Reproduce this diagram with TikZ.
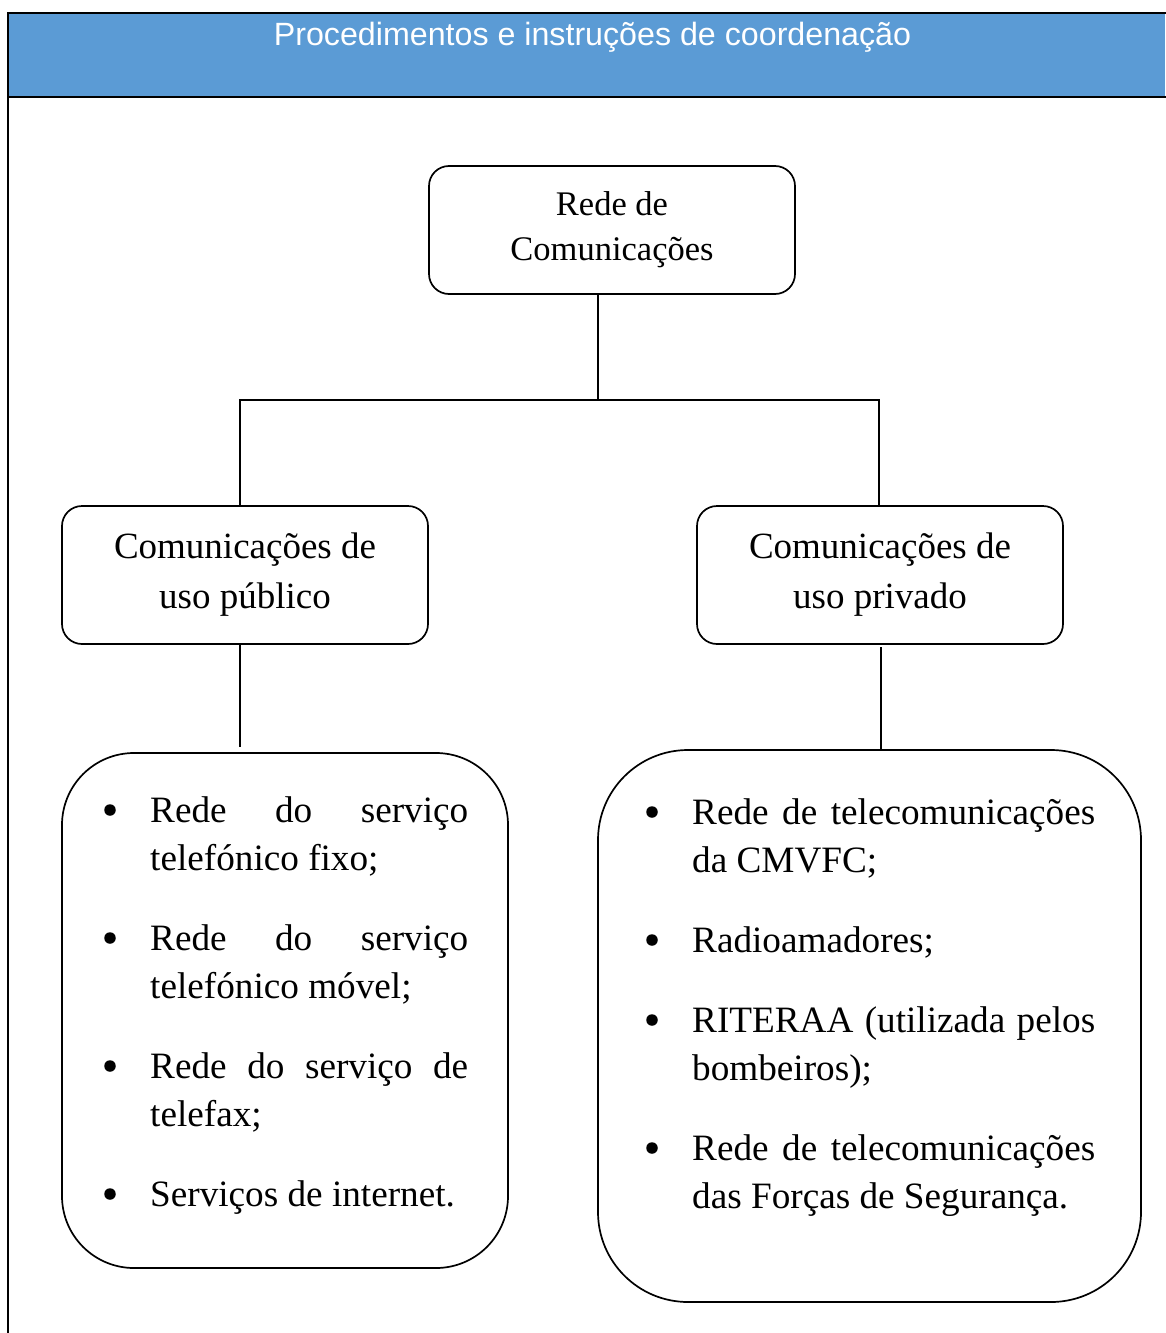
\documentclass[tikz,border=0pt]{standalone}
\usepackage{fontspec}
\setmainfont{Liberation Serif}
\newfontfamily\headfont{Liberation Sans}
\definecolor{headblue}{HTML}{5B9BD5}
\begin{document}
\begin{tikzpicture}[x=1pt,y=-1pt,
  frameline/.style={line width=2.6pt, line cap=rect},
  boxstyle/.style={draw, line width=1.7pt, rounded corners=20pt, align=center, inner sep=0pt},
  listbox/.style={draw, line width=1.7pt, inner sep=0pt},
  conn/.style={line width=1.6pt},
  bul/.style={circle, fill=black, inner sep=0pt, minimum size=11.5pt},
  itemline/.style={anchor=base west, inner sep=0pt, font=\fontsize{37.2}{48}\selectfont}
]
\useasboundingbox (0,0) rectangle (1165,1333);
% header
\fill[headblue] (8,13) rectangle (1165,97);
\draw[frameline] (8,13) -- (1165,13);
\draw[frameline] (8,97) -- (1165,97);
\draw[line width=1.8pt] (8,13) -- (8,1333);
\node[text=white, font=\headfont\fontsize{32.2}{36}\selectfont, inner sep=0pt, anchor=base] (title) at (592.5,45) {Procedimentos e instruções de coordenação};

% top box
\node[boxstyle, minimum width=366pt, minimum height=128pt, font=\fontsize{34.5}{45}\selectfont] (top) at (612,230) {Rede de\\Comunicações};
% middle boxes
\node[boxstyle, minimum width=366pt, minimum height=138pt, font=\fontsize{37}{50}\selectfont] (pub) at (245,575) {Comunicações de\\uso público};
\node[boxstyle, minimum width=366pt, minimum height=138pt, font=\fontsize{37}{50}\selectfont] (priv) at (880,575) {Comunicações de\\uso privado};
% list boxes
\node[listbox, rounded corners=72pt, minimum width=446pt, minimum height=515pt] (publist) at (285,1010.5) {};
\node[listbox, rounded corners=90pt, minimum width=543pt, minimum height=552pt] (privlist) at (869.5,1026) {};

% connectors
\coordinate (j) at (598,400);
\coordinate (jl) at (240,400);
\coordinate (jr) at (879,400);
\draw[conn] (top.south -| j) -- (j);
\draw[conn] (pub.north -| jl) -- (jl) -- (jr) -- (priv.north -| jr);
\draw[conn] (pub.south -| jl) -- ([yshift=5pt]publist.north -| jl);
\draw[conn] (881,647) -- (privlist.north -| 881,0);

% left list
\node[bul] (b1) at (110,810) {};
\node[itemline] (l1a) at (150,822) {\makebox[318pt][s]{Rede do serviço}};
\node[itemline] (l1b) at (150,870) {telefónico fixo;};
\node[bul] (b2) at (110,938) {};
\node[itemline] (l2a) at (150,950) {\makebox[318pt][s]{Rede do serviço}};
\node[itemline] (l2b) at (150,998) {telefónico móvel;};
\node[bul] (b3) at (110,1066) {};
\node[itemline] (l3a) at (150,1078) {\makebox[318pt][s]{Rede do serviço de}};
\node[itemline] (l3b) at (150,1126) {telefax;};
\node[bul] (b4) at (110,1194) {};
\node[itemline] (l4a) at (150,1206) {Serviços de internet.};

% right list
\node[bul] (c1) at (652,812) {};
\node[itemline] (r1a) at (692,824) {\makebox[403pt][s]{Rede de telecomunicações}};
\node[itemline] (r1b) at (692,872) {da CMVFC;};
\node[bul] (c2) at (652,940) {};
\node[itemline] (r2a) at (692,952) {Radioamadores;};
\node[bul] (c3) at (652,1020) {};
\node[itemline] (r3a) at (692,1032) {\makebox[403pt][s]{RITERAA (utilizada pelos}};
\node[itemline] (r3b) at (692,1080) {bombeiros);};
\node[bul] (c4) at (652,1148) {};
\node[itemline] (r4a) at (692,1160) {\makebox[403pt][s]{Rede de telecomunicações}};
\node[itemline] (r4b) at (692,1208) {das Forças de Segurança.};
\end{tikzpicture}
\end{document}
